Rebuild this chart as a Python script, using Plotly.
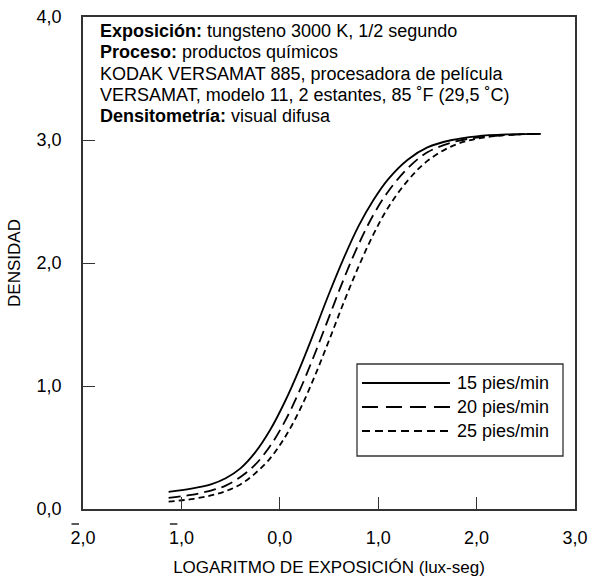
import plotly.graph_objects as go

# ---- data ----
x15 = [-1.13, -0.90, -0.70, -0.55, -0.40, -0.25, -0.10, 0.05, 0.20, 0.35, 0.50, 0.65, 0.80, 0.95, 1.10, 1.30, 1.50, 1.75, 2.00, 2.30, 2.65]
y15 = [0.14, 0.165, 0.20, 0.25, 0.33, 0.46, 0.64, 0.87, 1.14, 1.44, 1.75, 2.04, 2.30, 2.51, 2.68, 2.84, 2.94, 3.00, 3.03, 3.045, 3.05]

x20 = [-1.13, -0.90, -0.70, -0.55, -0.40, -0.25, -0.10, 0.05, 0.20, 0.35, 0.50, 0.65, 0.80, 0.95, 1.10, 1.30, 1.50, 1.75, 2.00, 2.30, 2.65]
y20 = [0.09, 0.115, 0.15, 0.19, 0.26, 0.36, 0.51, 0.71, 0.96, 1.25, 1.56, 1.87, 2.15, 2.39, 2.58, 2.77, 2.90, 2.98, 3.02, 3.04, 3.05]

x25 = [-1.13, -0.90, -0.70, -0.55, -0.40, -0.25, -0.10, 0.05, 0.20, 0.35, 0.50, 0.65, 0.80, 0.95, 1.10, 1.30, 1.50, 1.75, 2.00, 2.30, 2.65]
y25 = [0.06, 0.08, 0.11, 0.145, 0.20, 0.29, 0.41, 0.58, 0.80, 1.07, 1.37, 1.68, 1.97, 2.23, 2.45, 2.67, 2.83, 2.95, 3.01, 3.04, 3.05]

series_names = ["15 pies/min", "20 pies/min", "25 pies/min"]
series_dash = ["solid", "12px,6px", "6px,4px"]
legend_dash = ["solid", "16px,8px", "8px,5px"]

x_range = [-2, 3]
y_range = [0, 4]
x_tickvals = [-2, -1, 0, 1, 2, 3]
x_ticktext = ["2,0", "1,0", "0,0", "1,0", "2,0", "3,0"]
x_negative_ticks = [-2, -1]   # characteristic written with a bar (2̄, 1̄)
y_tickvals = [0, 1, 2, 3, 4]
y_ticktext = ["0,0", "1,0", "2,0", "3,0", "4,0"]

info_lines = [
    "<b>Exposición:</b> tungsteno 3000 K, 1/2 segundo",
    "<b>Proceso:</b> productos químicos",
    "KODAK VERSAMAT 885, procesadora de película",
    "VERSAMAT, modelo 11, 2 estantes, 85 ˚F (29,5 ˚C)",
    "<b>Densitometría:</b> visual difusa",
]

FONT = "Liberation Sans, Arial, Helvetica, sans-serif"
W, H = 589, 577
ML, MR, MT, MB = 83, 14, 17, 68
PW, PH = W - ML - MR, H - MT - MB

fig = go.Figure()
for xs, ys, name, dash in zip([x15, x20, x25], [y15, y20, y25], series_names, series_dash):
    fig.add_trace(go.Scatter(x=xs, y=ys, mode="lines", name=name,
                             line=dict(color="black", width=1.8, dash=dash, shape="spline", smoothing=1.0),
                             showlegend=False))

axis_common = dict(showgrid=False, zeroline=False, showline=True, linecolor="#333333", linewidth=1.5,
                   mirror=True, ticks="inside", ticklen=12, tickwidth=1.3, tickcolor="#333333",
                   automargin=False,
                   tickfont=dict(family=FONT, size=18, color="black"))

fig.update_xaxes(range=x_range, tickvals=x_tickvals, ticktext=x_ticktext,
                 title=dict(text="LOGARITMO DE EXPOSICIÓN (lux-seg)", font=dict(family=FONT, size=17, color="black"), standoff=14),
                 ticklabelstandoff=12, **axis_common)
fig.update_yaxes(range=y_range, tickvals=y_tickvals, ticktext=y_ticktext,
                 title=dict(text="DENSIDAD", font=dict(family=FONT, size=17, color="black"), standoff=12),
                 ticklabelstandoff=16, **axis_common)

# bars over negative characteristics in tick labels
for t in x_negative_ticks:
    xp = (t - x_range[0]) / (x_range[1] - x_range[0])
    fig.add_shape(type="line", xref="paper", yref="paper",
                  x0=xp - 11.5 / PW, x1=xp - 4 / PW, y0=-15 / PH, y1=-15 / PH,
                  line=dict(color="black", width=1.3))

# info text block
for i, t in enumerate(info_lines):
    fig.add_annotation(xref="paper", yref="paper", x=15 / PW, y=1 - (14 + 21.3 * i) / PH,
                       xanchor="left", yanchor="middle", text=t, showarrow=False,
                       font=dict(family=FONT, size=18, color="black"))

# custom legend box
lx0, lx1 = (357 - ML) / PW, (563 - ML) / PW
ly0, ly1 = (MT + PH - 456) / PH, (MT + PH - 364) / PH
fig.add_shape(type="rect", xref="paper", yref="paper", x0=lx0, x1=lx1, y0=ly0, y1=ly1,
              line=dict(color="#333333", width=1.3), fillcolor="white")
for i, (name, dash) in enumerate(zip(series_names, legend_dash)):
    yy = (MT + PH - (383 + 24 * i)) / PH
    fig.add_shape(type="line", xref="paper", yref="paper", x0=(362 - ML) / PW, x1=(450 - ML) / PW,
                  y0=yy, y1=yy, line=dict(color="black", width=1.8, dash=dash))
    fig.add_annotation(xref="paper", yref="paper", x=(455 - ML) / PW, y=yy, xanchor="left", yanchor="middle",
                       text=name, showarrow=False, font=dict(family=FONT, size=18, color="black"))

fig.update_layout(width=W, height=H, margin=dict(l=ML, r=MR, t=MT, b=MB),
                  plot_bgcolor="white", paper_bgcolor="white", showlegend=False)
fig.write_html("out.html")
